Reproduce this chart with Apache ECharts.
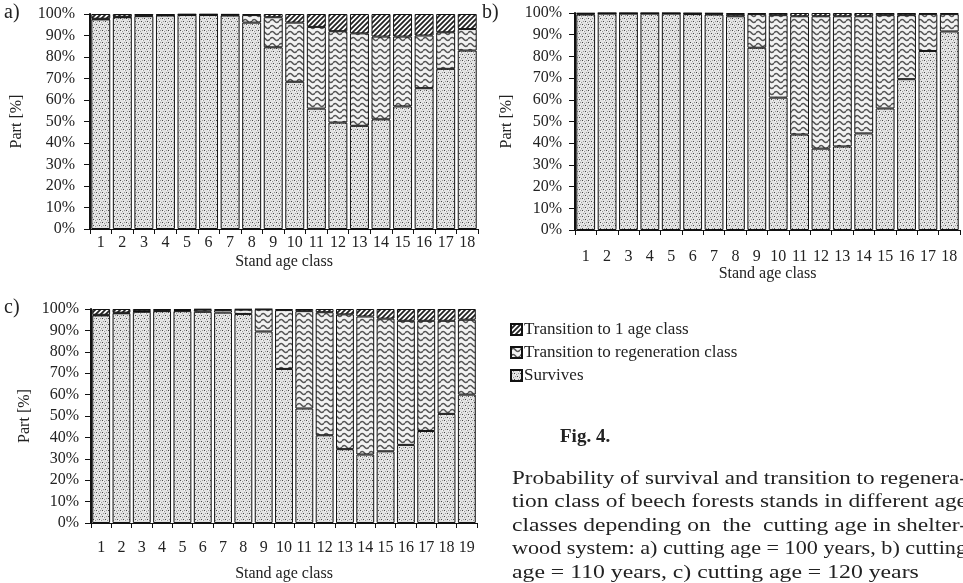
<!DOCTYPE html>
<html>
<head>
<meta charset="utf-8">
<script src="https://cdn.jsdelivr.net/npm/echarts@6/dist/echarts.min.js"></script>
<style>
  html, body { margin: 0; padding: 0; background: #fff; }
  #chart { width: 963px; height: 583px; }
</style>
</head>
<body>
<div id="chart"></div>
<script>
// Stand age classes
const classesAB = ['1','2','3','4','5','6','7','8','9','10','11','12','13','14','15','16','17','18'];
const classesC = ['1','2','3','4','5','6','7','8','9','10','11','12','13','14','15','16','17','18','19'];

// a) cutting age = 100 years  (percent)
const aSurvives = [97.5, 98.5, 99, 99.3, 99.5, 99.5, 99.3, 96, 84.5, 68.5, 56, 49.5, 48, 51, 57, 65.5, 74.5, 83];
const aRegen    = [0.3, 0.2, 0.3, 0.2, 0.2, 0.2, 0.3, 3.5, 14, 27.5, 38, 42.5, 43, 38.5, 32.5, 24.5, 17, 10];
const aTrans1   = [2.2, 1.3, 0.7, 0.5, 0.3, 0.3, 0.4, 0.5, 1.5, 4, 6, 8, 9, 10.5, 10.5, 10, 8.5, 7];

// b) cutting age = 110 years
const bSurvives = [99.3, 99.7, 99.7, 99.7, 99.7, 99.5, 99.3, 98.5, 84, 61, 44, 37.5, 38.5, 44.5, 56, 69.5, 82.5, 91.5];
const bRegen    = [0.4, 0.2, 0.2, 0.2, 0.2, 0.3, 0.4, 1, 15.5, 38, 54.5, 61, 60, 54, 43, 29.5, 17, 8];
const bTrans1   = [0.3, 0.1, 0.1, 0.1, 0.1, 0.2, 0.3, 0.5, 0.5, 1, 1.5, 1.5, 1.5, 1.5, 1, 1, 0.5, 0.5];

// c) cutting age = 120 years
const cSurvives = [97, 98, 98.7, 99, 99, 98.7, 98.3, 97.7, 89.5, 72, 53.5, 41, 34.5, 32, 33.5, 36.5, 43, 51, 60];
const cRegen    = [0.3, 0.3, 0.3, 0.3, 0.5, 1, 1.2, 2, 10.3, 27.5, 45.5, 57.5, 63, 64.5, 62, 58, 51.5, 43.5, 35];
const cTrans1   = [2.7, 1.7, 1, 0.7, 0.5, 0.3, 0.5, 0.3, 0.2, 0.5, 1, 1.5, 2.5, 3.5, 4.5, 5.5, 5.5, 5.5, 5];

const yTicks = [0, 10, 20, 30, 40, 50, 60, 70, 80, 90, 100];

const NAMES = ['Survives', 'Transition to regeneration class', 'Transition to 1 age class'];
const FONT = '"Liberation Serif", "DejaVu Serif", serif';

// fill patterns drawn on small canvases
function makeTile(w, h, draw) {
  const c = document.createElement('canvas');
  c.width = w; c.height = h;
  draw(c.getContext('2d'));
  return { image: c, repeat: 'repeat' };
}

const dotFill = makeTile(6, 6, (g) => {
  g.fillStyle = '#e2e2e2';
  g.fillRect(0, 0, 6, 6);
  g.fillStyle = '#444';
  g.fillRect(0, 0, 1, 1);
  g.fillRect(3, 3, 1, 1);
  g.fillStyle = '#999';
  g.fillRect(2, 1, 1, 1);
  g.fillRect(5, 4, 1, 1);
  g.fillRect(4, 0, 1, 1);
  g.fillRect(1, 3, 1, 1);
  g.fillStyle = '#fafafa';
  g.fillRect(1, 1, 1, 1);
  g.fillRect(4, 4, 1, 1);
});

const waveFill = makeTile(9, 6, (g) => {
  g.fillStyle = '#f2f2f2';
  g.fillRect(0, 0, 9, 6);
  g.strokeStyle = '#555';
  g.lineWidth = 1.6;
  g.beginPath();
  g.moveTo(0, 3);
  g.quadraticCurveTo(2.25, 0, 4.5, 3);
  g.quadraticCurveTo(6.75, 6, 9, 3);
  g.stroke();
});

const hatchFill = makeTile(5, 5, (g) => {
  g.fillStyle = '#fff';
  g.fillRect(0, 0, 5, 5);
  g.strokeStyle = '#222';
  g.lineWidth = 1.8;
  g.beginPath();
  g.moveTo(-1, 6); g.lineTo(6, -1);
  g.moveTo(-1, 1); g.lineTo(1, -1);
  g.moveTo(4, 6); g.lineTo(6, 4);
  g.stroke();
});

const fills = [dotFill, waveFill, hatchFill];

const panels = [
  { label: 'a)', cats: classesAB, data: [aSurvives, aRegen, aTrans1],
    grid: { left: 90, top: 14, width: 388, height: 215 },
    labelMargin: 6, xNameGap: 25, yNameGap: 65, yLabelMargin: 15, tag: [4, 3] },
  { label: 'b)', cats: classesAB, data: [bSurvives, bRegen, bTrans1],
    grid: { left: 575, top: 13, width: 385, height: 217 },
    labelMargin: 19, xNameGap: 36, yNameGap: 60, yLabelMargin: 13, tag: [482, 3] },
  { label: 'c)', cats: classesC, data: [cSurvives, cRegen, cTrans1],
    grid: { left: 91, top: 309, width: 386, height: 214 },
    labelMargin: 17, xNameGap: 43, yNameGap: 58, yLabelMargin: 12, tag: [4, 298] },
];

const grid = [], xAxis = [], yAxis = [], series = [], graphic = [];

panels.forEach((p, i) => {
  grid.push(p.grid);
  xAxis.push({
    type: 'category', gridIndex: i, data: p.cats,
    name: 'Stand age class', nameLocation: 'middle', nameGap: p.xNameGap,
    nameTextStyle: { fontFamily: FONT, fontSize: 16, color: '#222' },
    axisLine: { lineStyle: { color: '#111', width: 1 } },
    axisTick: { show: true, interval: 0, length: 5, lineStyle: { color: '#111' } },
    axisLabel: { interval: 0, margin: p.labelMargin, fontFamily: FONT, fontSize: 16, color: '#222' },
  });
  yAxis.push({
    type: 'value', gridIndex: i, min: yTicks[0], max: yTicks[yTicks.length - 1], interval: 10,
    name: 'Part [%]', nameLocation: 'middle', nameGap: p.yNameGap, nameRotate: 90,
    nameTextStyle: { fontFamily: FONT, fontSize: 16, color: '#222' },
    axisLine: { show: true, lineStyle: { color: '#111', width: 2 } },
    axisTick: { show: true, length: 6, lineStyle: { color: '#111' } },
    splitLine: { show: false },
    axisLabel: { margin: p.yLabelMargin, formatter: '{value}%', fontFamily: FONT, fontSize: 16, color: '#222' },
  });
  p.data.forEach((vals, k) => {
    series.push({
      name: NAMES[k], type: 'bar', stack: 'p' + i,
      xAxisIndex: i, yAxisIndex: i,
      barCategoryGap: '12%',
      data: vals,
      itemStyle: { color: fills[k], borderColor: '#111', borderWidth: 1 },
      emphasis: { disabled: true },
    });
  });
  graphic.push({
    type: 'text', left: p.tag[0], top: p.tag[1],
    style: { text: p.label, font: '20px ' + FONT, fill: '#222' },
  });
});

// caption, squeezed per line to a justified width
const captionLines = [
  'Probability of survival and transition to regenera-',
  'tion class of beech forests stands in different age',
  'classes depending on  the  cutting age in shelter-',
  'wood system: a) cutting age = 100 years, b) cutting',
  'age = 110 years, c) cutting age = 120 years',
];
const capFont = '18px ' + FONT;
const capLeft = 512, capRight = 967;
const meas = document.createElement('canvas').getContext('2d');
meas.font = capFont;
let scaleSum = 0;
const scales = captionLines.slice(0, 4).map((line) => {
  const s = (capRight - capLeft) / meas.measureText(line).width;
  scaleSum += s;
  return s;
});
scales.push(scaleSum / 4 * 1.03);

graphic.push({
  type: 'text', left: 560, top: 428,
  style: { text: 'Fig. 4.', font: 'bold 19px ' + FONT, fill: '#222' },
});
captionLines.forEach((line, i) => {
  graphic.push({
    type: 'text', x: capLeft, y: 470 + i * 23.5, scaleX: scales[i],
    style: { text: line, font: capFont, fill: '#222' },
  });
});

const chart = echarts.init(document.getElementById('chart'), null, { renderer: 'canvas' });
chart.setOption({
  animation: false,
  backgroundColor: '#fff',
  grid, xAxis, yAxis, series, graphic,
  legend: {
    orient: 'vertical', left: 505, top: 316,
    data: [NAMES[2], NAMES[1], NAMES[0]],
    itemWidth: 11, itemHeight: 11, itemGap: 6,
    icon: 'rect',
    textStyle: { fontFamily: FONT, fontSize: 17, color: '#222', padding: [0, 0, 0, -3] },
    selectedMode: false,
  },
});
</script>
</body>
</html>
